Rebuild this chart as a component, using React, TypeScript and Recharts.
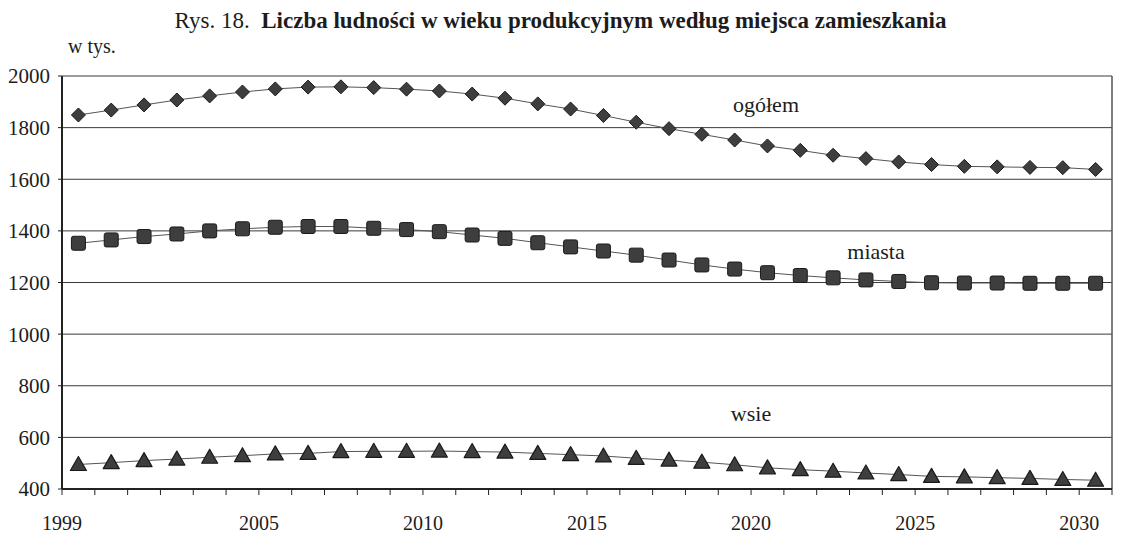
import React from 'react';
import { LineChart, Line, XAxis, YAxis, CartesianGrid, ReferenceLine } from 'recharts';

// years on the horizontal axis
const years = [
  1999, 2000, 2001, 2002, 2003, 2004, 2005, 2006, 2007, 2008, 2009, 2010, 2011, 2012, 2013, 2014,
  2015, 2016, 2017, 2018, 2019, 2020, 2021, 2022, 2023, 2024, 2025, 2026, 2027, 2028, 2029, 2030,
];

// values in thousands
const ogolem = [
  1849, 1868, 1888, 1907, 1923, 1938, 1950, 1957, 1958, 1955, 1949, 1942, 1930, 1914, 1892, 1872,
  1847, 1821, 1796, 1774, 1752, 1729, 1712, 1693, 1680, 1667, 1657, 1650, 1648, 1646, 1645, 1638,
];
const miasta = [
  1352, 1365, 1378, 1388, 1400, 1408, 1414, 1417, 1417, 1410, 1405, 1397, 1384, 1371, 1354, 1338,
  1322, 1306, 1287, 1268, 1252, 1238, 1227, 1218, 1210, 1204, 1199, 1198, 1198, 1197, 1197, 1197,
];
const wsie = [
  495, 502, 510, 516, 523, 529, 536, 538, 545, 546, 546, 547, 545, 543, 538, 533,
  528, 519, 512, 504, 494, 482, 475, 469, 462, 456, 449, 447, 444, 441, 437, 434,
];

const labelYears = [1999, 2005, 2010, 2015, 2020, 2025, 2030];
const yTicks = [400, 600, 800, 1000, 1200, 1400, 1600, 1800, 2000];

const data = years.map((year, i) => ({ year, ogolem: ogolem[i], miasta: miasta[i], wsie: wsie[i] }));

// tick marks sit on the boundaries between years, like the original
const xTicks = [...years.map((y) => y - 0.5), years[years.length - 1] + 0.5];

const FONT = '"Liberation Serif", "Times New Roman", serif';
const INK = '#1c1c1c';
const MARK_FILL = '#3e3e3e';
const MARK_EDGE = '#1a1a1a';

const Diamond = ({ cx, cy }: any) => (
  <path
    d={`M${cx},${cy - 7} L${cx + 7},${cy} L${cx},${cy + 7} L${cx - 7},${cy} Z`}
    fill={MARK_FILL}
    stroke={MARK_EDGE}
    strokeWidth={1}
  />
);

const Square = ({ cx, cy }: any) => (
  <rect x={cx - 7} y={cy - 7} width={14} height={14} rx={2} fill={MARK_FILL} stroke={MARK_EDGE} strokeWidth={1} />
);

const Triangle = ({ cx, cy }: any) => (
  <path
    d={`M${cx},${cy - 8} L${cx + 8},${cy + 6} L${cx - 8},${cy + 6} Z`}
    fill={MARK_FILL}
    stroke={MARK_EDGE}
    strokeWidth={1.2}
    strokeLinejoin="round"
  />
);

const seriesLabel = (text: string, left: number, top: number) => (
  <div
    style={{
      position: 'absolute',
      left,
      top,
      transform: 'translateX(-50%)',
      fontFamily: FONT,
      fontSize: 22,
      lineHeight: '22px',
      color: INK,
      whiteSpace: 'nowrap',
    }}
  >
    {text}
  </div>
);

export default function App() {
  return (
    <div style={{ position: 'absolute', left: 0, top: 0, width: 1121, height: 534, background: '#fff', fontFamily: FONT }}>
      <div
        style={{
          position: 'absolute',
          top: 9,
          left: 0,
          width: 1121,
          textAlign: 'center',
          fontSize: 23,
          lineHeight: '23px',
          color: INK,
          whiteSpace: 'nowrap',
        }}
      >
        Rys. 18.&nbsp; <b>Liczba ludności w wieku produkcyjnym według miejsca zamieszkania</b>
      </div>
      <div style={{ position: 'absolute', top: 36, left: 68, fontSize: 20, lineHeight: '20px', color: INK }}>w tys.</div>

      <LineChart width={1121} height={534} data={data} margin={{ top: 76, right: 9, bottom: 0, left: 2 }}>
        <CartesianGrid vertical={false} stroke="#3a3a3a" strokeWidth={1} />
        <XAxis
          dataKey="year"
          type="number"
          domain={[1998.5, 2030.5]}
          ticks={xTicks}
          interval={0}
          tickFormatter={(v: number) => (labelYears.includes(v + 0.5) ? String(v + 0.5) : '')}
          height={45}
          tickSize={6}
          tickMargin={21}
          axisLine={{ stroke: '#222', strokeWidth: 2 }}
          tickLine={{ stroke: '#222' }}
          tick={{ fill: INK, fontSize: 20, fontFamily: FONT }}
        />
        <YAxis
          domain={[400, 2000]}
          ticks={yTicks}
          interval={0}
          width={60}
          tickSize={4}
          tickMargin={8}
          axisLine={{ stroke: '#222', strokeWidth: 2 }}
          tickLine={{ stroke: '#222' }}
          tick={{ fill: INK, fontSize: 21, fontFamily: FONT }}
        />
        <ReferenceLine x={2030.5} stroke="#555" strokeWidth={1.5} />
        <Line
          dataKey="ogolem"
          stroke="#555"
          strokeWidth={1}
          isAnimationActive={false}
          dot={(p: any) => <Diamond key={`o-${p.index}`} cx={p.cx} cy={p.cy} />}
          activeDot={false}
        />
        <Line
          dataKey="miasta"
          stroke="#555"
          strokeWidth={1}
          isAnimationActive={false}
          dot={(p: any) => <Square key={`m-${p.index}`} cx={p.cx} cy={p.cy} />}
          activeDot={false}
        />
        <Line
          dataKey="wsie"
          stroke="#555"
          strokeWidth={1}
          isAnimationActive={false}
          dot={(p: any) => <Triangle key={`w-${p.index}`} cx={p.cx} cy={p.cy} />}
          activeDot={false}
        />
      </LineChart>

      {seriesLabel('ogółem', 766, 94)}
      {seriesLabel('miasta', 876, 241)}
      {seriesLabel('wsie', 751, 403)}
    </div>
  );
}
